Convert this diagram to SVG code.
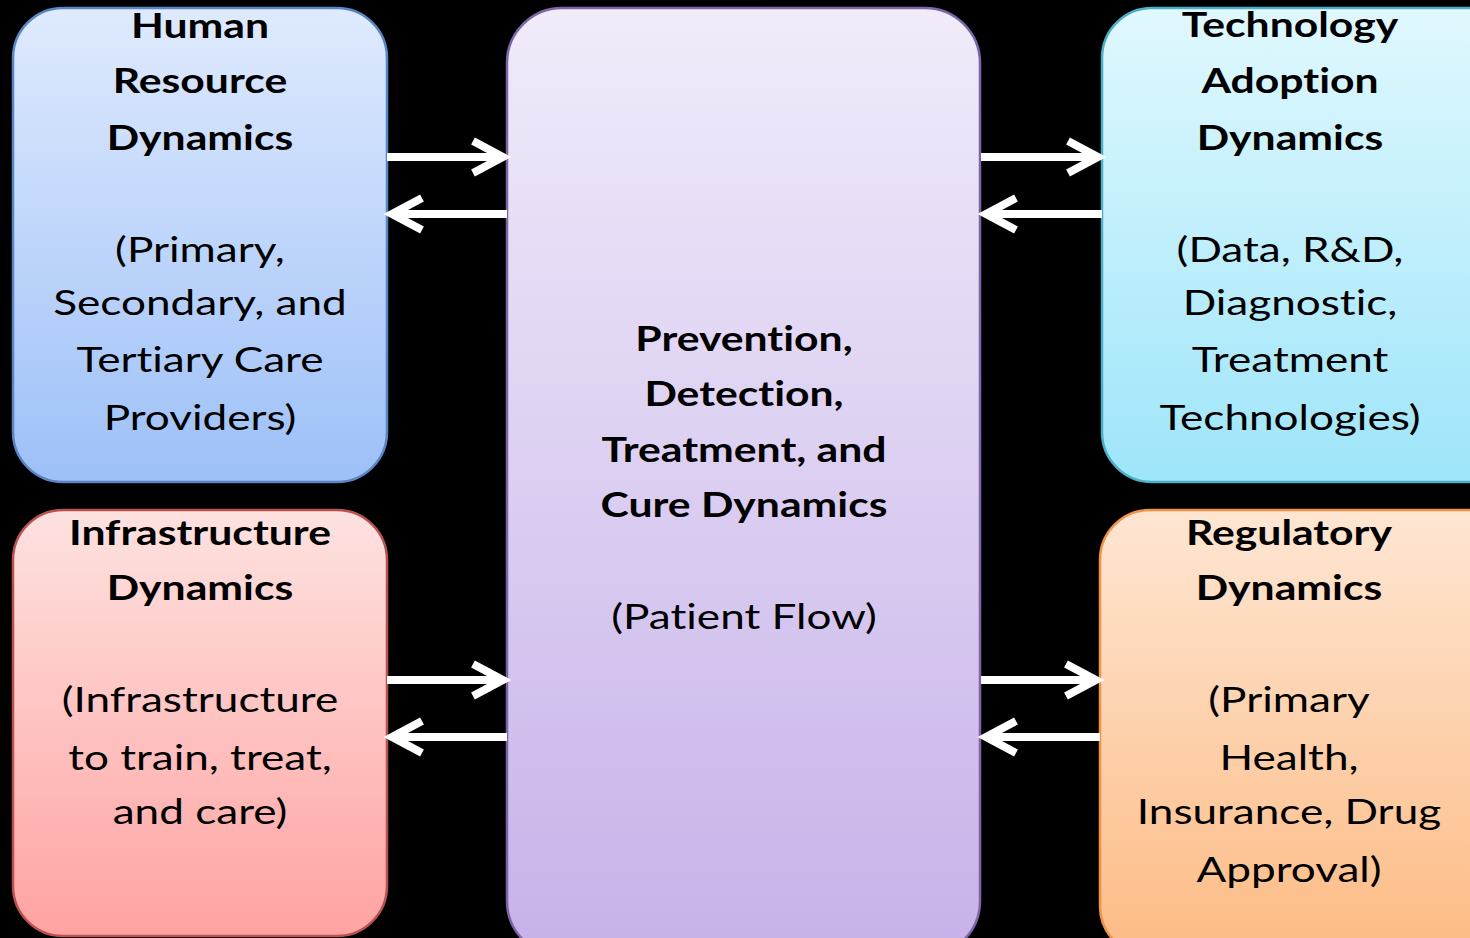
<svg xmlns="http://www.w3.org/2000/svg" width="1470" height="938" viewBox="0 0 1470 938">
<defs>
<linearGradient id="gBlue" x1="0" y1="0" x2="0" y2="1"><stop offset="0" stop-color="#dfeafd"/><stop offset="1" stop-color="#9dc0f8"/></linearGradient>
<linearGradient id="gRed" x1="0" y1="0" x2="0" y2="1"><stop offset="0" stop-color="#fde2e0"/><stop offset="1" stop-color="#ffa3a2"/></linearGradient>
<linearGradient id="gPurple" x1="0" y1="0" x2="0" y2="1"><stop offset="0" stop-color="#f1ebfa"/><stop offset="1" stop-color="#c6b2e9"/></linearGradient>
<linearGradient id="gCyan" x1="0" y1="0" x2="0" y2="1"><stop offset="0" stop-color="#e0f8fe"/><stop offset="1" stop-color="#9ee5f9"/></linearGradient>
<linearGradient id="gOrange" x1="0" y1="0" x2="0" y2="1"><stop offset="0" stop-color="#fee6d3"/><stop offset="1" stop-color="#fdbb84"/></linearGradient>
<marker id="chev" markerUnits="userSpaceOnUse" orient="auto" markerWidth="60" markerHeight="60" refX="0" refY="0" viewBox="-40 -30 60 60" overflow="visible">
<path d="M-30,-16 L0,0 L-30,16" fill="none" stroke="#ffffff" stroke-width="8" stroke-linejoin="miter"/>
</marker>
<style>
text{font-family:Lato,"Liberation Sans",sans-serif;font-size:35px;fill:#000;text-anchor:middle;font-variant-ligatures:none}
.b{font-weight:bold}
.arr{stroke:#fff;stroke-width:8;fill:none;marker-end:url(#chev)}
.box{stroke-width:2.5}
</style>
</defs>
<rect x="0" y="0" width="1470" height="938" fill="#000"/>

<g id="human">
<rect class="box" x="13" y="8" width="374" height="474" rx="50" fill="url(#gBlue)" stroke="#5a85c4"/>
<g transform="translate(200,0) scale(1.22,1)">
<text class="b" x="0" y="38">Human</text>
<text class="b" x="0" y="93">Resource</text>
<text class="b" x="0" y="150">Dynamics</text>
<g transform="scale(1.033,1)">
<text x="0" y="262">(Primary,</text>
<text x="0" y="315">Secondary, and</text>
<text x="0" y="372">Tertiary Care</text>
<text x="0" y="430">Providers)</text>
</g>
</g>
</g>

<g id="infrastructure">
<rect class="box" x="13" y="510" width="374" height="426" rx="50" fill="url(#gRed)" stroke="#b9524f"/>
<g transform="translate(200,0) scale(1.22,1)">
<text class="b" x="0" y="545">Infrastructure</text>
<text class="b" x="0" y="600">Dynamics</text>
<g transform="scale(1.033,1)">
<text x="0" y="712">(Infrastructure</text>
<text x="0" y="770">to train, treat,</text>
<text x="0" y="824">and care)</text>
</g>
</g>
</g>

<g id="center">
<rect class="box" x="507" y="8" width="473" height="948" rx="55" fill="url(#gPurple)" stroke="#7d66a8"/>
<g transform="translate(744,0) scale(1.22,1)">
<text class="b" x="0" y="351">Prevention,</text>
<text class="b" x="0" y="406">Detection,</text>
<text class="b" x="0" y="462">Treatment, and</text>
<text class="b" x="0" y="517">Cure Dynamics</text>
<g transform="scale(1.033,1)">
<text x="0" y="629">(Patient Flow)</text>
</g>
</g>
</g>

<g id="technology">
<rect class="box" x="1102" y="8" width="420" height="474" rx="50" fill="url(#gCyan)" stroke="#4cafc8"/>
<g transform="translate(1290,0) scale(1.22,1)">
<text class="b" x="0" y="37">Technology</text>
<text class="b" x="0" y="93">Adoption</text>
<text class="b" x="0" y="150">Dynamics</text>
<g transform="scale(1.033,1)">
<text x="0" y="262">(Data, R&amp;D,</text>
<text x="0" y="315">Diagnostic,</text>
<text x="0" y="372">Treatment</text>
<text x="0" y="430">Technologies)</text>
</g>
</g>
</g>

<g id="regulatory">
<rect class="box" x="1100" y="510" width="420" height="446" rx="50" fill="url(#gOrange)" stroke="#f0934a"/>
<g transform="translate(1289,0) scale(1.22,1)">
<text class="b" x="0" y="545">Regulatory</text>
<text class="b" x="0" y="600">Dynamics</text>
<g transform="scale(1.033,1)">
<text x="0" y="712">(Primary</text>
<text x="0" y="770">Health,</text>
<text x="0" y="824">Insurance, Drug</text>
<text x="0" y="882">Approval)</text>
</g>
</g>
</g>

<g id="connectors">
<path class="arr" d="M387,157 L503,157"/>
<path class="arr" d="M507,214 L392,214"/>
<path class="arr" d="M981,157 L1098,157"/>
<path class="arr" d="M1102,214 L986,214"/>
<path class="arr" d="M387,680 L503,680"/>
<path class="arr" d="M507,737 L392,737"/>
<path class="arr" d="M981,680 L1096,680"/>
<path class="arr" d="M1100,737 L986,737"/>
</g>
</svg>
